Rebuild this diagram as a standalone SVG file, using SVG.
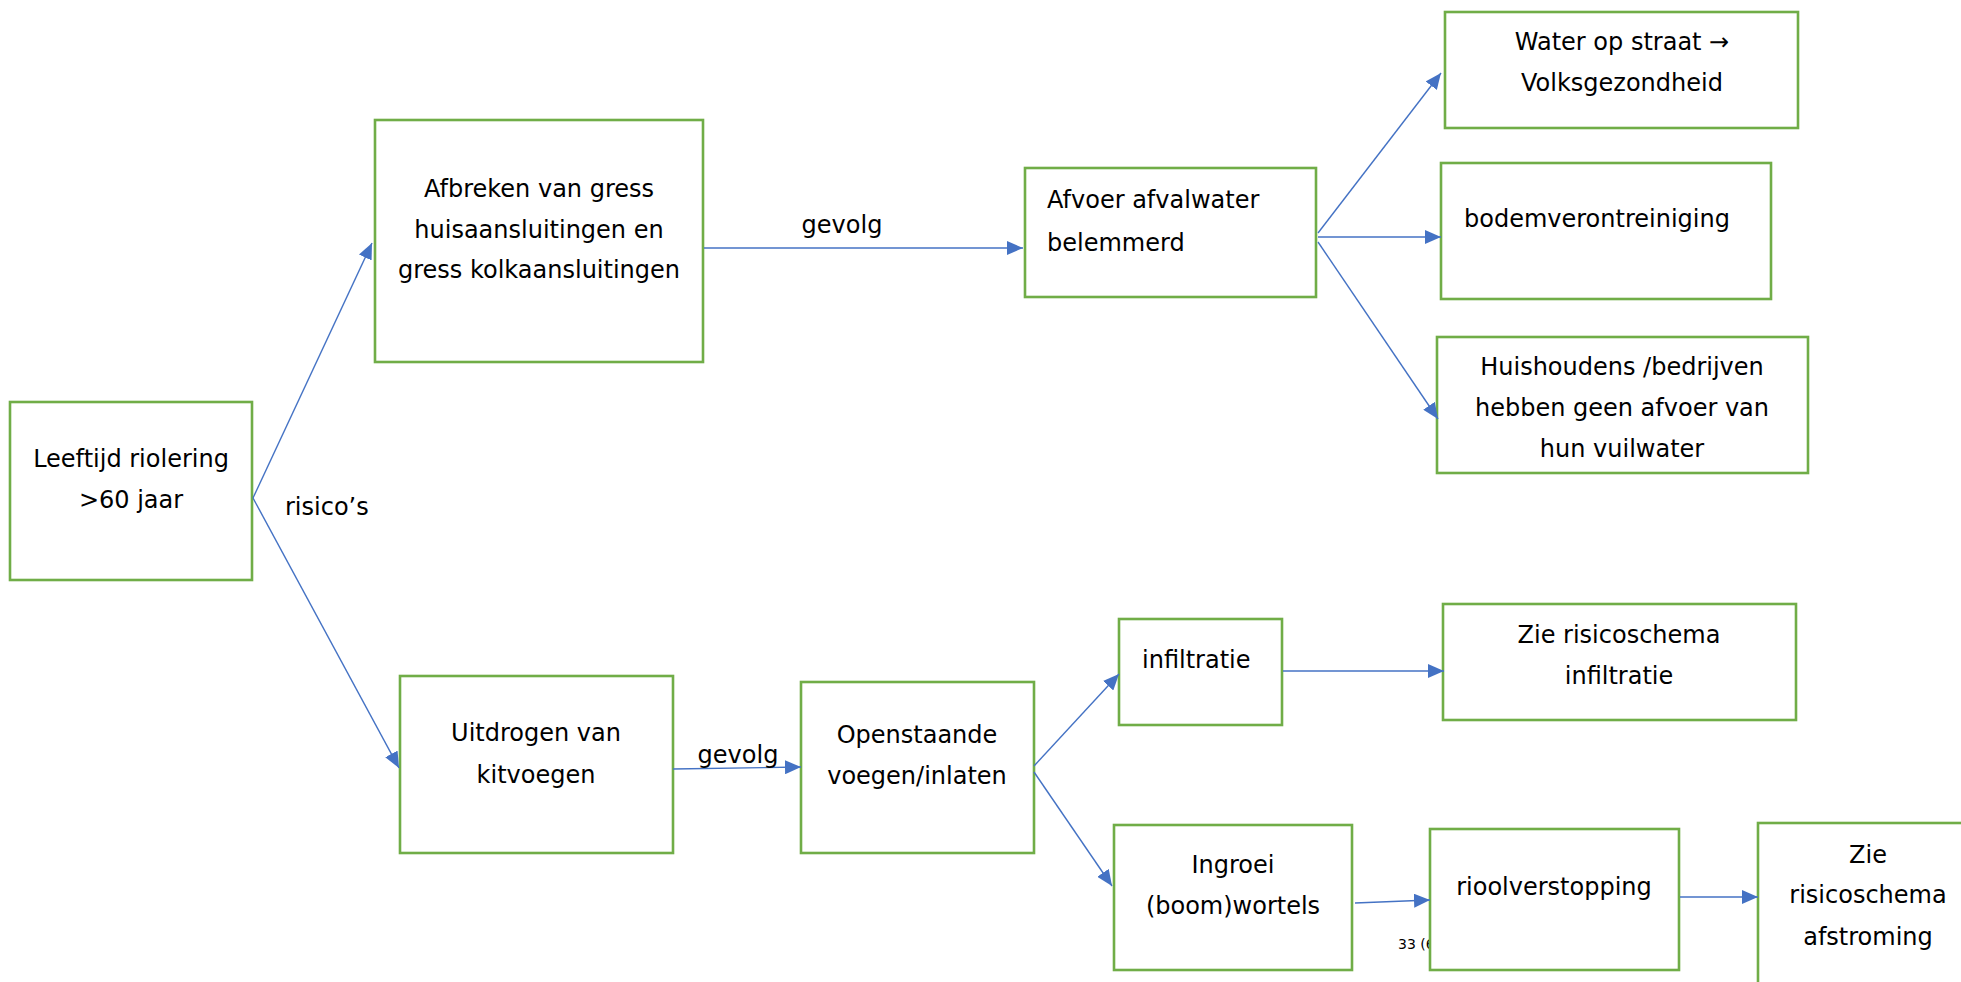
<svg xmlns="http://www.w3.org/2000/svg" width="1961" height="982" viewBox="0 0 1961 982">
  <style>
    .box { fill: #ffffff; stroke: #70AD47; stroke-width: 2.6; }
    .t { font-family: "DejaVu Sans", "Liberation Sans", sans-serif; font-size: 24px; fill: #000000; }
    .c { text-anchor: middle; }
    .conn { stroke: #4472C4; stroke-width: 1.4; fill: none; marker-end: url(#arr); }
    .small { font-family: "DejaVu Sans", "Liberation Sans", sans-serif; font-size: 14px; fill: #000000; }
  </style>
  <defs>
    <marker id="arr" markerUnits="userSpaceOnUse" markerWidth="16" markerHeight="14" refX="16" refY="7" orient="auto">
      <path d="M0,0 L16,7 L0,14 z" fill="#4472C4"/>
    </marker>
  </defs>
  <rect width="1961" height="982" fill="#ffffff"/>

  <text class="small" x="1398" y="949">33 (6</text>

  <g id="n-leeftijd">
    <rect class="box" x="10" y="402" width="242" height="178"/>
    <text class="t c" x="131" y="467">Leeftijd riolering</text>
    <text class="t c" x="131" y="508">&gt;60 jaar</text>
  </g>
  <g id="n-afbreken">
    <rect class="box" x="375" y="120" width="328" height="242"/>
    <text class="t c" x="539" y="197">Afbreken van gress</text>
    <text class="t c" x="539" y="238">huisaansluitingen en</text>
    <text class="t c" x="539" y="278">gress kolkaansluitingen</text>
  </g>
  <g id="n-afvoer">
    <rect class="box" x="1025" y="168" width="291" height="129"/>
    <text class="t" x="1047" y="208">Afvoer afvalwater</text>
    <text class="t" x="1047" y="251">belemmerd</text>
  </g>
  <g id="n-water">
    <rect class="box" x="1445" y="12" width="353" height="116"/>
    <text class="t c" x="1622" y="50">Water op straat →</text>
    <text class="t c" x="1622" y="91">Volksgezondheid</text>
  </g>
  <g id="n-bodem">
    <rect class="box" x="1441" y="163" width="330" height="136"/>
    <text class="t" x="1464" y="227">bodemverontreiniging</text>
  </g>
  <g id="n-huis">
    <rect class="box" x="1437" y="337" width="371" height="136"/>
    <text class="t c" x="1622" y="375">Huishoudens /bedrijven</text>
    <text class="t c" x="1622" y="416">hebben geen afvoer van</text>
    <text class="t c" x="1622" y="457">hun vuilwater</text>
  </g>
  <g id="n-uitdrogen">
    <rect class="box" x="400" y="676" width="273" height="177"/>
    <text class="t c" x="536" y="741">Uitdrogen van</text>
    <text class="t c" x="536" y="783">kitvoegen</text>
  </g>
  <g id="n-openstaande">
    <rect class="box" x="801" y="682" width="233" height="171"/>
    <text class="t c" x="917" y="743">Openstaande</text>
    <text class="t c" x="917" y="784">voegen/inlaten</text>
  </g>
  <g id="n-infiltratie">
    <rect class="box" x="1119" y="619" width="163" height="106"/>
    <text class="t" x="1142" y="668">infiltratie</text>
  </g>
  <g id="n-zie-infiltratie">
    <rect class="box" x="1443" y="604" width="353" height="116"/>
    <text class="t c" x="1619" y="643">Zie risicoschema</text>
    <text class="t c" x="1619" y="684">infiltratie</text>
  </g>
  <g id="n-ingroei">
    <rect class="box" x="1114" y="825" width="238" height="145"/>
    <text class="t c" x="1233" y="873">Ingroei</text>
    <text class="t c" x="1233" y="914">(boom)wortels</text>
  </g>
  <g id="n-riool">
    <rect class="box" x="1430" y="829" width="249" height="141"/>
    <text class="t c" x="1554" y="895">rioolverstopping</text>
  </g>
  <g id="n-zie-afstroming">
    <rect class="box" x="1758" y="823" width="222" height="200"/>
    <text class="t c" x="1868" y="863">Zie</text>
    <text class="t c" x="1868" y="903">risicoschema</text>
    <text class="t c" x="1868" y="945">afstroming</text>
  </g>

  <g id="connectors">
    <line class="conn" x1="253" y1="498" x2="372" y2="243"/>
    <line class="conn" x1="253" y1="498" x2="399" y2="768"/>
    <line class="conn" x1="704" y1="248" x2="1023" y2="248"/>
    <line class="conn" x1="1318" y1="233" x2="1441" y2="73"/>
    <line class="conn" x1="1318" y1="237" x2="1441" y2="237"/>
    <line class="conn" x1="1318" y1="242" x2="1438" y2="419"/>
    <line class="conn" x1="673" y1="769" x2="801" y2="767"/>
    <line class="conn" x1="1034" y1="766" x2="1119" y2="674"/>
    <line class="conn" x1="1034" y1="772" x2="1112" y2="886"/>
    <line class="conn" x1="1283" y1="671" x2="1444" y2="671"/>
    <line class="conn" x1="1355" y1="903" x2="1430" y2="900"/>
    <line class="conn" x1="1680" y1="897" x2="1758" y2="897"/>
    <text class="t" x="285" y="515">risico’s</text>
    <text class="t c" x="842" y="233">gevolg</text>
    <text class="t c" x="738" y="763">gevolg</text>
  </g>
</svg>
